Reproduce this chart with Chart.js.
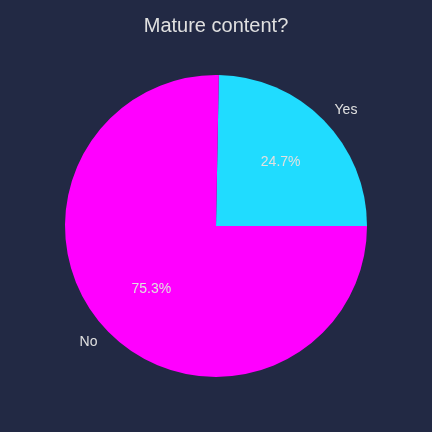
<!DOCTYPE html>
<html>
<head>
<meta charset="utf-8">
<script src="https://cdn.jsdelivr.net/npm/chart.js@4"></script>
<style>
  html, body { margin: 0; padding: 0; background: #222944; }
  #wrap { width: 432px; height: 432px; }
</style>
</head>
<body>
<div id="wrap"><canvas id="c" width="432" height="432"></canvas></div>
<script>
const categories = ["Yes", "No"];
const values = [24.7, 75.3];
const colors = ["#20dcff", "#ff00ff"];
const titleText = "Mature content?";

const total = values.reduce((a, b) => a + b, 0);
const textColor = "#e0e0e0";
const fontFamily = "'Liberation Sans', Arial, sans-serif";

const labelPlugin = {
  id: "pieLabels",
  afterDatasetsDraw(chart) {
    const ctx = chart.ctx;
    const meta = chart.getDatasetMeta(0);
    ctx.save();
    ctx.font = "14px " + fontFamily;
    ctx.fillStyle = textColor;
    ctx.textBaseline = "middle";
    meta.data.forEach((arc, i) => {
      const p = arc.getProps(["x", "y", "startAngle", "endAngle", "outerRadius"], true);
      const mid = (p.startAngle + p.endAngle) / 2;
      const cx = Math.cos(mid), cy = Math.sin(mid);
      const lx = p.x + cx * p.outerRadius * 1.1;
      const ly = p.y + cy * p.outerRadius * 1.1;
      ctx.textAlign = cx >= 0 ? "left" : "right";
      ctx.fillText(categories[i], lx, ly);
      const px = p.x + cx * p.outerRadius * 0.6;
      const py = p.y + cy * p.outerRadius * 0.6;
      ctx.textAlign = "center";
      ctx.fillText((values[i] / total * 100).toFixed(1) + "%", px, py);
    });
    ctx.restore();
  }
};

new Chart(document.getElementById("c"), {
  type: "pie",
  data: {
    labels: categories,
    datasets: [{
      data: values,
      backgroundColor: colors,
      borderWidth: 0
    }]
  },
  options: {
    responsive: false,
    animation: false,
    rotation: 90 - 360 * (values[0] / total),
    layout: { padding: { top: 0, bottom: 55, left: 65, right: 65 } },
    plugins: {
      legend: { display: false },
      tooltip: { enabled: false },
      title: {
        display: true,
        text: titleText,
        color: textColor,
        font: { size: 20, weight: "normal", family: fontFamily },
        padding: { top: 14, bottom: 37 }
      }
    }
  },
  plugins: [labelPlugin]
});
</script>
</body>
</html>
